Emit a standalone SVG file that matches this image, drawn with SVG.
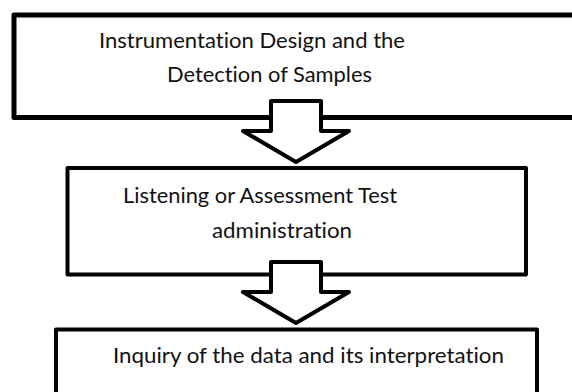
<svg xmlns="http://www.w3.org/2000/svg" width="572" height="392" viewBox="0 0 572 392">
<style>
.box{fill:#fff;stroke:#000;stroke-width:4;stroke-linejoin:round}
.arrow{fill:#fff;stroke:#000;stroke-width:4;stroke-linejoin:round}
.t{font-family:Lato,"Liberation Sans",sans-serif;font-size:21px;fill:#111;font-variant-ligatures:none}
</style>
<rect width="572" height="392" fill="#fff"/>
<g id="node1">
<rect class="box" x="14" y="15" width="600" height="102.5" style="stroke-width:5"/>
<text class="t" x="99" y="48" textLength="306" lengthAdjust="spacingAndGlyphs">Instrumentation Design and the</text>
<text class="t" x="167" y="82" textLength="205" lengthAdjust="spacingAndGlyphs">Detection of Samples</text>
</g>
<g id="node2">
<rect class="box" x="67.5" y="168" width="458.5" height="106.5"/>
<text class="t" x="123" y="203" textLength="274" lengthAdjust="spacingAndGlyphs">Listening or Assessment Test</text>
<text class="t" x="212" y="238" textLength="140" lengthAdjust="spacingAndGlyphs">administration</text>
</g>
<g id="node3">
<rect class="box" x="56" y="329.5" width="481" height="100"/>
<text class="t" x="113" y="363" textLength="391" lengthAdjust="spacingAndGlyphs">Inquiry of the data and its interpretation</text>
</g>
<g id="connectors">
<path class="arrow" d="M271,101 H321 V131 H349 L296,162 L243,131 H271 Z"/>
<path class="arrow" d="M271,262 H321 V292 H349 L296,323 L243,292 H271 Z"/>
</g>
</svg>
